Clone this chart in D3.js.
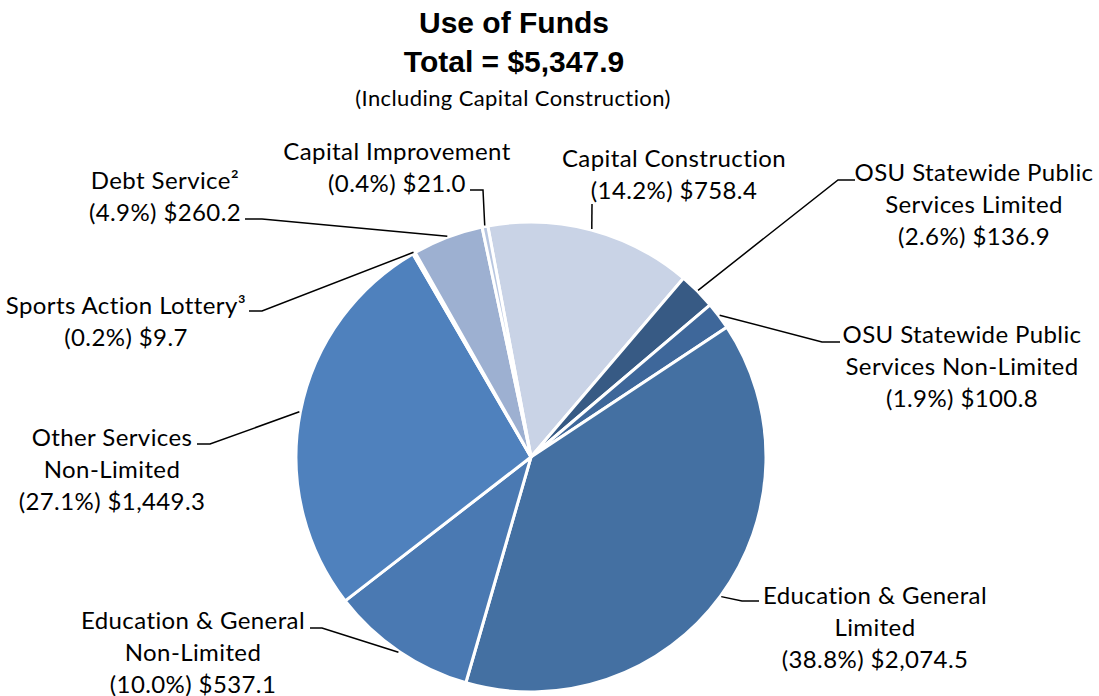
<!DOCTYPE html>
<html>
<head>
<meta charset="utf-8">
<script src="https://cdn.jsdelivr.net/npm/d3@7"></script>
<style>
  body { margin: 0; background: #fff; }
  .title { font-family: "Liberation Sans", Arial, sans-serif; font-weight: bold; font-size: 30px; fill: #000; }
  .subtitle, .lbl { font-family: Lato, "Noto Sans", sans-serif; fill: #000; letter-spacing: 0.4px; }
  .subtitle { font-size: 22px; }
  .lbl { font-size: 24px; }
</style>
</head>
<body>
<div id="chart"></div>
<script>
// ---------- data ----------
var categories = [
  ['Capital Construction'],
  ['OSU Statewide Public', 'Services Limited'],
  ['OSU Statewide Public', 'Services Non-Limited'],
  ['Education & General', 'Limited'],
  ['Education & General', 'Non-Limited'],
  ['Other Services', 'Non-Limited'],
  ['Sports Action Lottery\u00b3'],
  ['Debt Service\u00b2'],
  ['Capital Improvement']
];
var amounts = [758.4, 136.9, 100.8, 2074.5, 537.1, 1449.3, 9.7, 260.2, 21.0];
var sliceColors = ['#c9d3e6', '#375a84', '#3e679a', '#4470a2', '#4a79b2', '#4f81bd', '#aabfe2', '#9db0d1', '#b8c6e0'];

// label layout: text centre, first baseline, leader bend points (after the slice edge)
var labelLayout = [
  {x: 674, y: 167, pts: [[592, 204]]},
  {x: 974, y: 181, pts: [[838, 180], [855, 180]]},
  {x: 962, y: 343, pts: [[822, 342], [840, 342]]},
  {x: 875, y: 604, pts: [[742, 601], [759, 601]]},
  {x: 193, y: 629, pts: [[322, 628], [310, 628]]},
  {x: 112, y: 446, pts: [[210, 444], [197, 444]]},
  {x: 126, y: 314, pts: [[262, 311], [249, 311]]},
  {x: 165, y: 189, pts: [[262, 219], [245, 219]]},
  {x: 397, y: 160, pts: [[483, 190], [470, 190]]}
];

var width = 1099, height = 696;
var cx = 531, cy = 457, radius = 235;
var startDeg = -10.6;

var total = d3.sum(amounts);

var svg = d3.select('#chart').append('svg')
  .attr('width', width)
  .attr('height', height);

// ---------- titles ----------
svg.append('text').attr('class', 'title')
  .attr('x', 514).attr('y', 33).attr('text-anchor', 'middle')
  .text('Use of Funds');
svg.append('text').attr('class', 'title')
  .attr('x', 514).attr('y', 72).attr('text-anchor', 'middle')
  .text('Total = $' + d3.format(',.1f')(total));
svg.append('text').attr('class', 'subtitle')
  .attr('x', 513).attr('y', 106).attr('text-anchor', 'middle')
  .text('(Including Capital Construction)');

// ---------- pie ----------
var start = startDeg * Math.PI / 180;
var pie = d3.pie()
  .sort(null)
  .startAngle(start)
  .endAngle(start + 2 * Math.PI);

var arcs = pie(amounts);

var arc = d3.arc()
  .innerRadius(0)
  .outerRadius(radius);

var g = svg.append('g')
  .attr('transform', 'translate(' + cx + ',' + cy + ')');

g.selectAll('path.slice')
  .data(arcs)
  .join('path')
  .attr('class', 'slice')
  .attr('d', arc)
  .attr('fill', (d, i) => sliceColors[i])
  .attr('stroke', '#fff')
  .attr('stroke-width', 3)
  .attr('stroke-linejoin', 'round');

// ---------- leader lines ----------
var line = d3.line();
svg.selectAll('path.leader')
  .data(arcs)
  .join('path')
  .attr('class', 'leader')
  .attr('fill', 'none')
  .attr('stroke', '#000')
  .attr('stroke-width', 1.5)
  .attr('d', function(d, i) {
    var a = (d.startAngle + d.endAngle) / 2;
    var edge = [cx + Math.sin(a) * (radius + 1), cy - Math.cos(a) * (radius + 1)];
    return line([edge].concat(labelLayout[i].pts));
  });

// ---------- labels ----------
var pct = d3.format('.1f');
var money = d3.format(',.1f');

categories.forEach(function(lines, i) {
  var all = lines.concat(['(' + pct(amounts[i] / total * 100) + '%) $' + money(amounts[i])]);
  var t = svg.append('text')
    .attr('class', 'lbl')
    .attr('text-anchor', 'middle')
    .attr('x', labelLayout[i].x)
    .attr('y', labelLayout[i].y);
  all.forEach(function(s, k) {
    t.append('tspan')
      .attr('x', labelLayout[i].x)
      .attr('dy', k === 0 ? 0 : 32)
      .text(s);
  });
});
</script>
</body>
</html>
